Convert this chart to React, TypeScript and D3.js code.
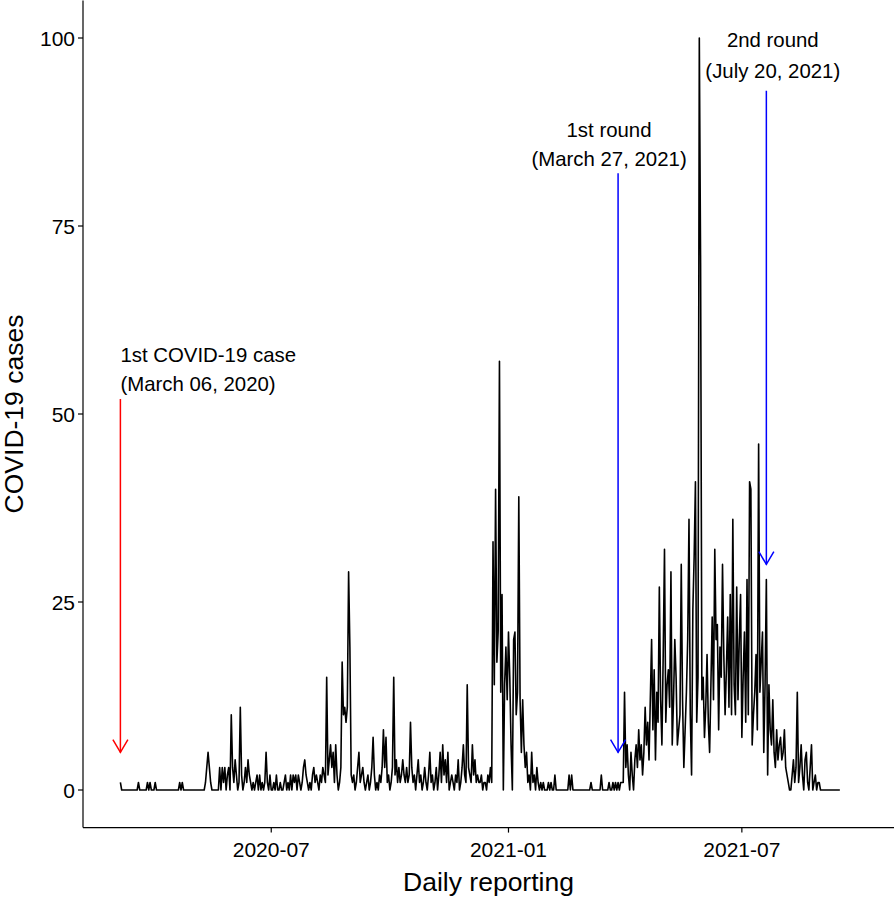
import React from 'react';
import * as d3 from 'd3';

// Daily reported COVID-19 cases, starting 2020-03-06 (one value per day)
const START_DATE = '2020-03-06';

// 2020-03-06 .. 2020-12-31
const cases2020 = [
  1, 0, 0, 0, 0, 0, 0, 0, 0, 0,
  0, 0, 0, 0, 1, 0, 0, 0, 0, 0,
  0, 1, 0, 1, 0, 0, 0, 1, 0, 0,
  0, 0, 0, 0, 0, 0, 0, 0, 0, 0,
  0, 0, 0, 0, 0, 0, 1, 0, 1, 0,
  0, 0, 0, 0, 0, 0, 0, 0, 0, 0,
  0, 0, 0, 0, 0, 0, 1, 3, 5, 3,
  1, 0, 0, 0, 0, 0, 0, 3, 0, 3,
  1, 3, 0, 2, 3, 0, 10, 3, 1, 4,
  2, 0, 1, 11, 2, 0, 1, 3, 1, 4,
  2, 1, 0, 1, 0, 1, 2, 0, 2, 0,
  1, 0, 1, 5, 1, 0, 2, 0, 0, 1,
  0, 2, 0, 0, 1, 0, 0, 1, 2, 0,
  1, 0, 2, 0, 2, 1, 2, 0, 2, 1,
  0, 1, 3, 4, 2, 1, 0, 1, 0, 2,
  3, 1, 2, 1, 0, 2, 1, 3, 2, 1,
  15, 2, 4, 6, 3, 5, 1, 6, 2, 0,
  1, 3, 17, 10, 11, 9, 11, 29, 19, 2,
  1, 2, 0, 1, 3, 5, 1, 2, 3, 1,
  0, 1, 2, 0, 1, 3, 7, 2, 0, 1,
  0, 2, 1, 3, 8, 3, 7, 1, 2, 0,
  1, 3, 15, 2, 4, 1, 3, 1, 2, 4,
  2, 1, 3, 1, 2, 9, 3, 1, 2, 0,
  2, 4, 1, 2, 0, 1, 3, 1, 0, 2,
  5, 1, 2, 0, 1, 3, 0, 2, 5, 1,
  6, 2, 4, 1, 5, 0, 1, 2, 1, 0,
  2, 1, 4, 0, 1, 3, 6, 2, 1, 14,
  3, 2, 1, 6, 2, 4, 1, 2, 1, 1,
  2, 0, 1, 1, 0, 2, 1, 3, 1, 33,
  14, 40, 17, 21, 57, 13, 26, 0, 14, 19,
  12,
];

// 2021-01-01 .. 2021-09-14
const cases2021 = [
  21, 15, 6, 0, 20, 21, 10, 13, 39,
  12, 5, 12, 6, 3, 5, 1, 2, 0, 5,
  1, 2, 0, 3, 1, 0, 1, 0, 1, 0,
  0, 0, 1, 0, 1, 0, 0, 2, 0, 0,
  0, 0, 0, 0, 0, 0, 0, 0, 2, 0,
  2, 0, 0, 0, 0, 0, 0, 0, 0, 0,
  0, 0, 0, 0, 0, 1, 0, 0, 0, 0,
  0, 0, 0, 2, 0, 0, 0, 0, 0, 1,
  0, 0, 1, 0, 1, 0, 1, 0, 1, 1,
  1, 13, 3, 6, 2, 0, 5, 2, 0, 4,
  6, 3, 8, 4, 6, 2, 5, 11, 6, 9,
  4, 12, 20, 8, 16, 4, 13, 9, 27, 12,
  6, 18, 32, 9, 14, 16, 11, 29, 6, 12,
  20, 15, 6, 8, 10, 30, 12, 3, 8, 13,
  20, 36, 10, 2, 24, 31, 41, 9, 15, 100,
  70, 12, 15, 7, 11, 18, 9, 5, 14, 23,
  12, 32, 20, 22, 8, 19, 15, 30, 18, 10,
  16, 23, 11, 26, 10, 36, 14, 10, 27, 12,
  20, 26, 7, 15, 21, 9, 28, 10, 41, 40,
  6, 10, 13, 18, 8, 46, 13, 17, 21, 5,
  14, 28, 2, 14, 8, 6, 12, 5, 3, 8,
  4, 6, 7, 4, 5, 8, 3, 2, 1, 0,
  0, 2, 4, 1, 3, 13, 1, 3, 6, 2,
  0, 4, 5, 1, 0, 3, 6, 0, 1, 2,
  0, 1, 1, 0, 0, 0, 0, 0, 0, 0,
  0, 0, 0, 0, 0, 0, 0, 0, 0,
];

const xTickDates = ['2020-07-01', '2021-01-01', '2021-07-01'];
const xTickLabels = ['2020-07', '2021-01', '2021-07'];
const yTicks = [0, 25, 50, 75, 100];
const xDomain = ['2020-02-06', '2021-10-27'];
const yDomain = [-5, 105];

// annotations: arrow date, arrow start/end values, label lines
const arrowDates = ['2020-03-06', '2021-03-27', '2021-07-20'];
const arrowFrom = [52, 82, 93];
const arrowTo = [5, 5, 30];
const arrowColors = ['#FF0000', '#0000FF', '#0000FF'];
const labelLines = [
  ['1st COVID-19 case', '(March 06, 2020)'],
  ['1st round', '(March 27, 2021)'],
  ['2nd round', '(July 20, 2021)'],
];
const labelDates = ['2020-03-06', '2021-03-20', '2021-07-25'];
const labelValues = [
  [56.9, 53.1],
  [86.8, 83.0],
  [98.8, 94.7],
];
const labelAnchors = ['start', 'middle', 'middle'];

const W = 896;
const H = 898;
const FONT = "'Liberation Sans', Arial, Helvetica, sans-serif";

const parse = (s: string) => new Date(s + 'T00:00:00Z');

export default function App() {
  const start = parse(START_DATE);
  const values = [...cases2020, ...cases2021];
  const data = values.map((v, i) => ({ date: d3.utcDay.offset(start, i), v }));

  const left = 83;
  const right = 894;
  const x = d3.scaleUtc().domain(xDomain.map(parse)).range([left, right]);
  const y = d3.scaleLinear().domain(yDomain).range([827.6, 0.4]);
  const bottom = y(yDomain[0]);
  const top = y(yDomain[1]);

  const line = d3
    .line<{ date: Date; v: number }>()
    .x((d) => x(d.date))
    .y((d) => y(d.v));

  return (
    <svg
      width={W}
      height={H}
      style={{ position: 'absolute', left: 0, top: 0, background: '#fff' }}
      fontFamily={FONT}
    >
      <rect x={0} y={0} width={W} height={H} fill="#fff" />
      {/* data line */}
      <path
        d={line(data) || ''}
        fill="none"
        stroke="#000"
        strokeWidth={1.6}
        strokeLinejoin="round"
      />
      {/* arrows */}
      {arrowDates.map((ds, i) => {
        const ax = x(parse(ds));
        const y0 = y(arrowFrom[i]);
        const y1 = y(arrowTo[i]);
        const hw = 7.5;
        const hl = 12.7;
        return (
          <g key={'a' + i} stroke={arrowColors[i]} strokeWidth={1.5} fill="none">
            <line x1={ax} y1={y0} x2={ax} y2={y1} />
            <polyline
              points={`${ax - hw},${y1 - hl} ${ax},${y1} ${ax + hw},${y1 - hl}`}
              strokeLinejoin="miter"
            />
          </g>
        );
      })}
      {/* labels */}
      {labelLines.map((lines, i) => (
        <g key={'l' + i}>
          {lines.map((t, j) => (
            <text
              key={j}
              x={x(parse(labelDates[i]))}
              y={y(labelValues[i][j])}
              textAnchor={labelAnchors[i] as any}
              fontSize={20.4}
              fill="#000"
            >
              {t}
            </text>
          ))}
        </g>
      ))}
      {/* axes */}
      <line x1={left} y1={top} x2={left} y2={bottom} stroke="#000" strokeWidth={1.2} />
      <line x1={left} y1={bottom} x2={right} y2={bottom} stroke="#000" strokeWidth={1.2} />
      {yTicks.map((t) => (
        <g key={'y' + t}>
          <line x1={left - 5} x2={left} y1={y(t)} y2={y(t)} stroke="#000" strokeWidth={1.2} />
          <text x={left - 8} y={y(t)} dy="0.36em" textAnchor="end" fontSize={21} fill="#000">
            {t}
          </text>
        </g>
      ))}
      {xTickDates.map((ds, i) => (
        <g key={'x' + i}>
          <line x1={x(parse(ds))} x2={x(parse(ds))} y1={bottom} y2={bottom + 5} stroke="#000" strokeWidth={1.2} />
          <text x={x(parse(ds))} y={bottom + 29} textAnchor="middle" fontSize={21} fill="#000">
            {xTickLabels[i]}
          </text>
        </g>
      ))}
      <text x={(left + right) / 2} y={891} textAnchor="middle" fontSize={26.5} fill="#000">
        Daily reporting
      </text>
      <text
        transform={`translate(23, ${(top + bottom) / 2}) rotate(-90)`}
        textAnchor="middle"
        fontSize={26.5}
        fill="#000"
      >
        COVID-19 cases
      </text>
    </svg>
  );
}
